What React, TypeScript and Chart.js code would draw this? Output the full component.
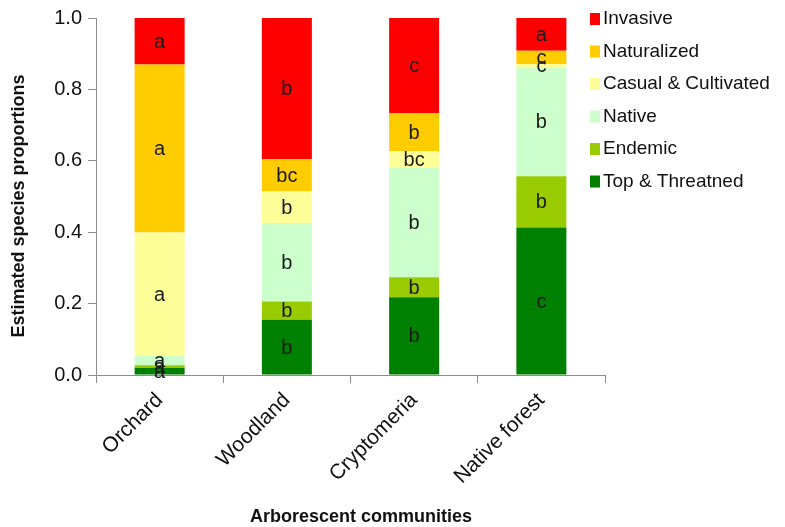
import React, { useEffect, useRef } from "react";
import { Chart, registerables } from "chart.js";

Chart.register(...registerables);

// Communities along the x axis
const communities = ["Orchard", "Woodland", "Cryptomeria", "Native forest"];

// Status classes, stacked from the bottom up
const statusNames = [
  "Top & Threatned",
  "Endemic",
  "Native",
  "Casual & Cultivated",
  "Naturalized",
  "Invasive",
];

const statusColors = ["#008000", "#99CC00", "#CCFFCC", "#FFFF99", "#FFCC00", "#FF0000"];

// Estimated proportions per community (Orchard, Woodland, Cryptomeria, Native forest)
const topThreatened = [0.02, 0.155, 0.218, 0.413];
const endemic = [0.007, 0.051, 0.056, 0.144];
const native = [0.027, 0.22, 0.306, 0.305];
const casualCultivated = [0.345, 0.088, 0.047, 0.009];
const naturalized = [0.471, 0.09, 0.106, 0.037];
const invasive = [0.13, 0.396, 0.267, 0.092];

// Significance letters shown on each segment
const topThreatenedLetters = ["a", "b", "b", "c"];
const endemicLetters = ["a", "b", "b", "b"];
const nativeLetters = ["a", "b", "b", "b"];
const casualLetters = ["a", "b", "bc", "c"];
const naturalizedLetters = ["a", "bc", "b", "c"];
const invasiveLetters = ["a", "b", "c", "a"];

const yTicks = [0, 0.2, 0.4, 0.6, 0.8, 1.0];

const yTitle = "Estimated species proportions";
const xTitle = "Arborescent communities";

const FONT = "'Liberation Sans', Arial, sans-serif";

const seriesValues = [topThreatened, endemic, native, casualCultivated, naturalized, invasive];
const seriesLetters = [
  topThreatenedLetters,
  endemicLetters,
  nativeLetters,
  casualLetters,
  naturalizedLetters,
  invasiveLetters,
];

// Letters centred in every stacked segment
const segmentLetters = {
  id: "segmentLetters",
  afterDatasetsDraw(chart: any) {
    const ctx = chart.ctx;
    ctx.save();
    ctx.font = `20px ${FONT}`;
    ctx.fillStyle = "#1a1a1a";
    ctx.textAlign = "center";
    ctx.textBaseline = "middle";
    chart.data.datasets.forEach((ds: any, di: number) => {
      const meta = chart.getDatasetMeta(di);
      meta.data.forEach((bar: any, i: number) => {
        const text = ds.letters?.[i];
        if (!text) return;
        const { x, y, base } = bar.getProps(["x", "y", "base"], true);
        ctx.fillText(text, x, (y + base) / 2 + 1);
      });
    });
    ctx.restore();
  },
};

// Axis titles and the legend on the right
const annotations = {
  id: "annotations",
  afterDraw(chart: any) {
    const ctx = chart.ctx;
    ctx.save();
    ctx.fillStyle = "#111";
    ctx.font = `bold 18px ${FONT}`;
    ctx.textAlign = "center";
    ctx.textBaseline = "middle";
    ctx.translate(19, 206);
    ctx.rotate(-Math.PI / 2);
    ctx.fillText(yTitle, 0, 0);
    ctx.restore();

    ctx.save();
    ctx.fillStyle = "#111";
    ctx.font = `bold 18px ${FONT}`;
    ctx.textAlign = "center";
    ctx.textBaseline = "middle";
    ctx.fillText(xTitle, 361, 517);
    ctx.restore();

    ctx.save();
    ctx.font = `19px ${FONT}`;
    ctx.textAlign = "left";
    ctx.textBaseline = "middle";
    const items = [...chart.data.datasets].reverse();
    items.forEach((ds: any, k: number) => {
      const cy = 19 + k * 32.5;
      ctx.fillStyle = ds.backgroundColor;
      ctx.fillRect(590, cy - 6, 10, 12);
      ctx.fillStyle = "#111";
      ctx.fillText(ds.label, 603, cy);
    });
    ctx.restore();
  },
};

export default function App() {
  const canvasRef = useRef<HTMLCanvasElement | null>(null);

  useEffect(() => {
    if (!canvasRef.current) return;
    const chart = new Chart(canvasRef.current, {
      type: "bar",
      data: {
        labels: communities,
        datasets: statusNames.map((name, i) => ({
          label: name,
          data: seriesValues[i],
          letters: seriesLetters[i],
          backgroundColor: statusColors[i],
          borderWidth: 0,
          barPercentage: 0.393,
          categoryPercentage: 1,
        })) as any,
      },
      options: {
        responsive: false,
        animation: false,
        devicePixelRatio: 1,
        layout: { padding: { top: 16, right: 180, left: 0, bottom: 0 } },
        plugins: {
          legend: { display: false },
          tooltip: { enabled: false },
        },
        scales: {
          x: {
            stacked: true,
            grid: {
              offset: true,
              drawOnChartArea: false,
              drawTicks: true,
              tickLength: 8,
              color: "#8c8c8c",
            },
            border: { display: true, color: "#8c8c8c", width: 1 },
            ticks: {
              minRotation: 45,
              maxRotation: 45,
              color: "#111",
              padding: 5,
              font: { family: FONT, size: 21 },
            },
            afterFit(scale: any) {
              scale.height = 152;
            },
          },
          y: {
            stacked: true,
            min: 0,
            max: 1,
            afterBuildTicks(scale: any) {
              scale.ticks = yTicks.map((v) => ({ value: v }));
            },
            grid: {
              drawOnChartArea: false,
              drawTicks: true,
              tickLength: 8,
              color: "#8c8c8c",
            },
            border: { display: true, color: "#8c8c8c", width: 1 },
            ticks: {
              color: "#111",
              padding: 6,
              font: { family: FONT, size: 20 },
              callback: (v: any) => Number(v).toFixed(1),
            },
            afterFit(scale: any) {
              scale.width = 96;
            },
          },
        },
      },
      plugins: [segmentLetters, annotations],
    });
    return () => chart.destroy();
  }, []);

  return (
    <div style={{ position: "absolute", left: 0, top: 0, width: 785, height: 527, background: "#fff" }}>
      <canvas ref={canvasRef} width={785} height={527} style={{ display: "block" }} />
    </div>
  );
}
